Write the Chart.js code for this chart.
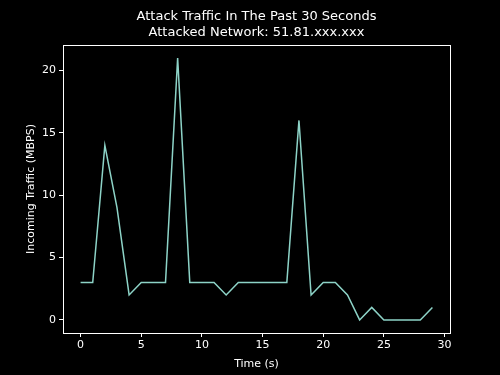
<!DOCTYPE html>
<html lang="en">
<head>
    <meta charset="UTF-8">
    <title>Attack Traffic</title>
    <script src="https://cdn.jsdelivr.net/npm/chart.js"></script>
    <style>
        body {
            margin: 0;
            background-color: #000;
        }
        #wrap {
            width: 500px;
            height: 375px;
        }
    </style>
</head>
<body>
    <div id="wrap">
        <canvas id="trafficChart" width="500" height="375"></canvas>
    </div>

    <script>
        // seconds and incoming traffic (MBPS)
        const seconds = [0, 1, 2, 3, 4, 5, 6, 7, 8, 9, 10, 11, 12, 13, 14, 15, 16, 17, 18, 19, 20, 21, 22, 23, 24, 25, 26, 27, 28, 29];
        const traffic = [3, 3, 14, 9, 2, 3, 3, 3, 21, 3, 3, 3, 2, 3, 3, 3, 3, 3, 16, 2, 3, 3, 2, 0, 1, 0, 0, 0, 0, 1];
        const xTicks = [0, 5, 10, 15, 20, 25, 30];
        const yTicks = [0, 5, 10, 15, 20];
        const titleLines = ['Attack Traffic In The Past 30 Seconds', 'Attacked Network: 51.81.xxx.xxx'];

        const fg = '#ffffff';
        const font = { family: 'DejaVu Sans', size: 11 };

        // black background, box around the plot area, title centred over the plot
        const frame = {
            id: 'frame',
            beforeDraw(chart) {
                const c = chart.ctx;
                c.save();
                c.fillStyle = '#000';
                c.fillRect(0, 0, chart.width, chart.height);
                c.restore();
            },
            afterDraw(chart) {
                const a = chart.chartArea;
                const c = chart.ctx;
                c.save();
                c.strokeStyle = fg;
                c.lineWidth = 1;
                c.strokeRect(a.left + 0.5, a.top + 0.5, a.right - a.left, a.bottom - a.top);
                c.fillStyle = fg;
                c.font = '13px "DejaVu Sans"';
                c.textAlign = 'center';
                c.textBaseline = 'middle';
                const cx = (a.left + a.right) / 2;
                titleLines.forEach((t, i) => c.fillText(t, cx, 17 + i * 16));
                c.restore();
            }
        };

        new Chart(document.getElementById('trafficChart'), {
            type: 'line',
            data: {
                datasets: [{
                    data: seconds.map((s, i) => ({ x: s, y: traffic[i] })),
                    borderColor: '#8dd3c7',
                    borderWidth: 1.5,
                    pointRadius: 0,
                    tension: 0,
                    fill: false
                }]
            },
            options: {
                responsive: false,
                animation: false,
                layout: { padding: { top: 45, right: 50, left: 25 } },
                plugins: {
                    legend: { display: false },
                    tooltip: { enabled: false },
                    title: { display: false }
                },
                scales: {
                    x: {
                        type: 'linear',
                        min: -1.45,
                        max: 30.45,
                        afterBuildTicks: axis => { axis.ticks = xTicks.map(v => ({ value: v })); },
                        afterFit: scale => { scale.height = 42; },
                        ticks: { color: fg, font: font, padding: 2, maxRotation: 0 },
                        grid: { drawOnChartArea: false, color: fg, tickLength: 4 },
                        border: { color: fg },
                        title: { display: true, text: 'Time (s)', color: fg, font: font, padding: { top: 0 } }
                    },
                    y: {
                        min: -1.05,
                        max: 22.05,
                        afterBuildTicks: axis => { axis.ticks = yTicks.map(v => ({ value: v })); },
                        afterFit: scale => { scale.width = 38; },
                        ticks: { color: fg, font: font, padding: 3 },
                        grid: { drawOnChartArea: false, color: fg, tickLength: 4 },
                        border: { color: fg },
                        title: { display: true, text: 'Incoming Traffic (MBPS)', color: fg, font: font, padding: 0 }
                    }
                }
            },
            plugins: [frame]
        });
    </script>
</body>
</html>
